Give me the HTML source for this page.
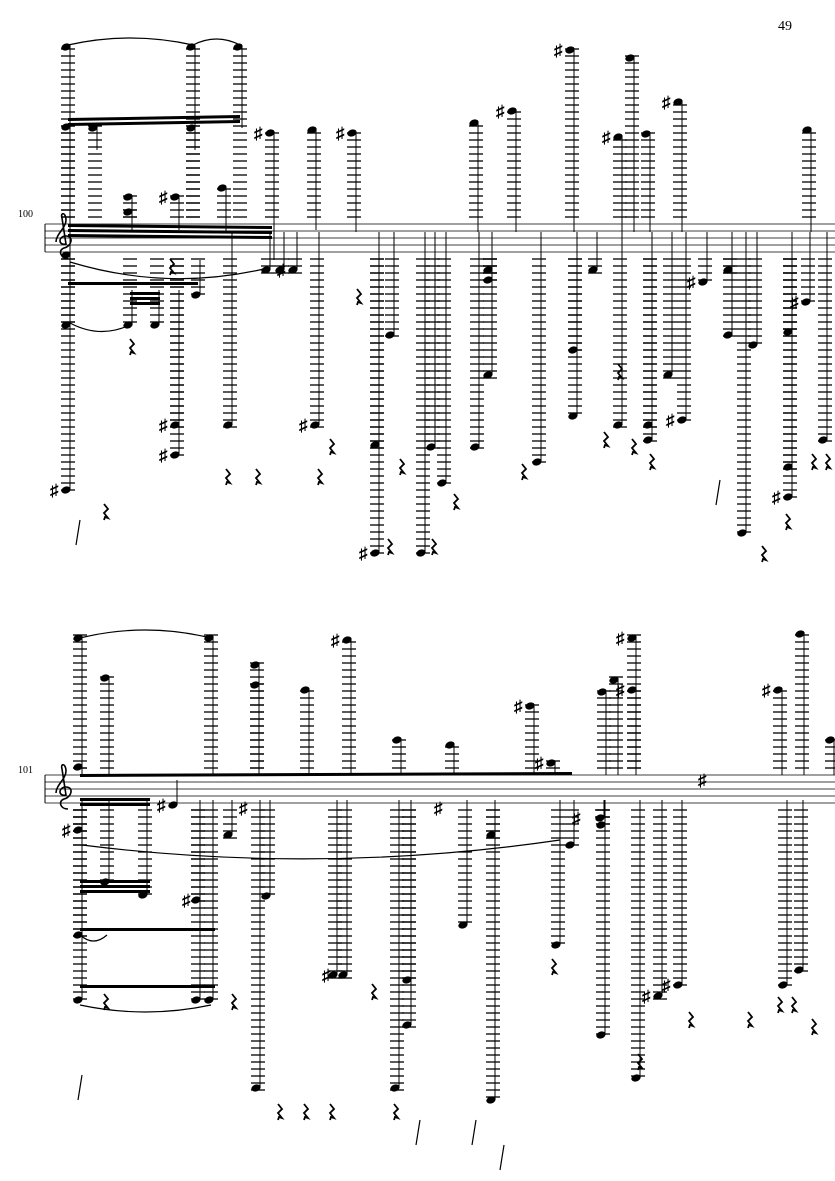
<!DOCTYPE html>
<html><head><meta charset="utf-8">
<style>
html,body{margin:0;padding:0;background:#fff;}
svg{display:block;}
text{font-family:"Liberation Serif",serif;}
</style></head>
<body>
<svg id="s" width="835" height="1181" viewBox="0 0 835 1181" xmlns="http://www.w3.org/2000/svg">
<text x="778" y="30" font-size="14">49</text>
<text x="18" y="217" font-size="10">100</text>
<text x="18" y="773" font-size="10">101</text>
</svg>
<script>
const s=document.getElementById('s');
let out='';
function line(x1,y1,x2,y2,w,c){out+=`<line x1="${x1}" y1="${y1}" x2="${x2}" y2="${y2}" stroke="${c||'#000'}" stroke-width="${w||1}"/>`;}
function staff(top){
  for(let i=0;i<5;i++)line(45,top+i*7,835,top+i*7,0.8);
  line(45,top,45,top+28,1);
  out+=`<path d="M68 ${top+34} C60 ${top+34} 58 ${top+26} 64 ${top+24} C72 ${top+22} 74 ${top+12} 66 ${top+12} C58 ${top+12} 58 ${top+22} 66 ${top+20} L62 ${top-6} C60 ${top-12} 66 ${top-12} 66 ${top-4} C66 ${top+4} 56 ${top+10} 56 ${top+18}" fill="none" stroke="#000" stroke-width="1.6"/>`;
}
function col(x,top,bot,heads,stemEnd){
  const sTop=top,sBot=top+28;
  heads.forEach(h=>{
    if(h<sTop){for(let y=sTop-7;y>=h-3;y-=7)line(x-7,y,x+7,y,1.3);}
    if(h>sBot){for(let y=sBot+7;y<=h+3;y+=7)line(x-7,y,x+7,y,1.3);}
    out+=`<ellipse cx="${x-2}" cy="${h}" rx="4.8" ry="3.4" transform="rotate(-20 ${x-2} ${h})" fill="#000"/>`;
  });
  const ys=heads.concat([stemEnd]);
  line(x+2,Math.min(...ys),x+2,Math.max(...ys),1);
}
function sharp(x,y){out+=`<text x="${x}" y="${y+6}" font-size="17" font-weight="bold" font-family="DejaVu Sans">♯</text>`;}
function rest(x,y){out+=`<path d="M${x} ${y-6} l4 5 l-4 4 l4 5 l-3 -1 l-1 3" fill="none" stroke="#000" stroke-width="1.8"/>`;}
function beam(x1,y1,x2,y2,n){for(let i=0;i<n;i++)out+=`<polygon points="${x1},${y1+i*5} ${x2},${y2+i*5} ${x2},${y2+i*5+3} ${x1},${y1+i*5+3}" fill="#000"/>`;}
function slur(x1,y1,x2,y2,h){out+=`<path d="M${x1} ${y1} Q${(x1+x2)/2} ${y1+h} ${x2} ${y2}" fill="none" stroke="#000" stroke-width="1.2"/>`;}

const T1=224;
staff(T1);
const s1=[
 [68,[47,127,255,325,490],255],[95,[128],150],[193,[47,128],150],[240,[47],128],
 [130,[197,212],230],[177,[197],230],[224,[188],232],[272,[133],260],[314,[130],230],
 [354,[133],232],[476,[123],232],[514,[111],232],[572,[50],232],[620,[137],232],
 [632,[58],232],[648,[134],232],[680,[102],232],[809,[130],232],
 [130,[325],290],[157,[325],290],[177,[425,455],290],[198,[295],260],[230,[425],232],
 [268,[270],232],[282,[270],232],[295,[270],232],[317,[425],232],[377,[445,553],232],
 [392,[335],232],[423,[553],232],[433,[447],232],[444,[483],232],[477,[447],232],
 [490,[375,280,270],232],[539,[462],232],[575,[416,350],232],[595,[270],232],
 [620,[425],232],[650,[425,440],232],[670,[375],232],[684,[420],232],[705,[282],232],
 [730,[335,270],232],[744,[533],232],[755,[345],232],[790,[332,467,497],232],
 [808,[302],232],[825,[440],232]
];
s1.forEach(c=>col(c[0],T1,0,c[1],c[2]));
beam(68,224,272,226,3);beam(68,118,240,115,2);beam(68,282,198,282,1);beam(130,292,160,292,3);
slur(68,45,193,45,-14);slur(193,45,240,45,-12);slur(70,262,268,268,30);slur(70,323,130,325,16);
[[272,133],[354,133],[514,111],[572,50],[620,137],[680,102],[177,197],[295,270],[705,282],[808,302],[177,425],[177,455],[317,425],[684,420],[790,497],[68,490],[377,553]].forEach(p=>sharp(p[0]-18,p[1]));
[[170,265],[130,345],[104,510],[226,475],[256,475],[318,475],[330,445],[357,295],[400,465],[388,545],[432,545],[454,500],[522,470],[604,438],[618,370],[632,445],[650,460],[762,552],[786,520],[812,460],[826,460]].forEach(p=>rest(p[0],p[1]));

const T2=775;
staff(T2);
const s2=[
 [80,[638,767],775],[107,[678],775],[211,[638],775],[257,[665,685],775],[307,[690],775],
 [349,[640],775],[399,[740],775],[452,[745],775],[532,[706],775],[553,[763],775],
 [604,[692],775],[616,[680],775],[634,[638,690],775],[780,[690],775],[802,[634],775],
 [832,[740],775],[175,[805],780],
 [80,[830,935,1000],800],[107,[882],800],[145,[895],800],[198,[900,1000],800],
 [211,[1000],800],[268,[896],800],[258,[1088],800],[335,[975],800],[345,[975],800],
 [397,[1088],800],[409,[980,1025],800],[465,[925],800],[493,[1100,835],800],
 [558,[945],800],[603,[1035,825],800],[638,[1078],800],[660,[996],800],[680,[985],800],
 [785,[985],800],[801,[970],800],[230,[835],800],[572,[845],800],[602,[818],800]
];
s2.forEach(c=>col(c[0],T2,0,c[1],c[2]));
beam(80,774,572,772,1);beam(80,798,150,798,2);beam(80,928,215,928,1);beam(80,985,215,985,1);beam(80,880,150,880,3);
slur(80,638,211,638,-16);slur(82,845,560,840,30);slur(80,1005,211,1005,14);slur(80,935,107,935,12);
[[175,805],[553,763],[532,706],[780,690],[349,640],[634,638],[634,690],[257,808],[452,808],[590,818],[716,780],[200,900],[340,975],[660,996],[680,985],[80,830]].forEach(p=>sharp(p[0]-18,p[1]));
[[232,1000],[278,1110],[304,1110],[330,1110],[372,990],[394,1110],[552,965],[689,1018],[748,1018],[778,1003],[792,1003],[812,1025],[638,1060],[104,1000]].forEach(p=>rest(p[0],p[1]));
[[80,520],[720,480],[420,1120],[476,1120],[504,1145],[82,1075]].forEach(p=>line(p[0],p[1],p[0]-4,p[1]+25,1.2));
s.insertAdjacentHTML('beforeend',out);
</script>
</body></html>
